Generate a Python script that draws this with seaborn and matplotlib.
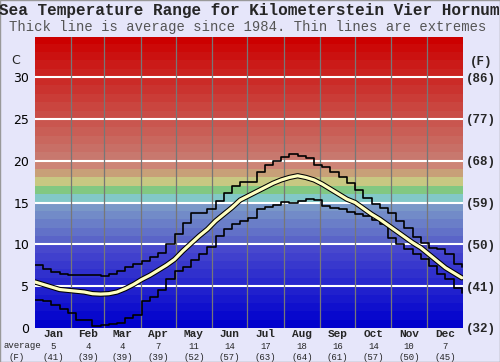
import numpy as np
import pandas as pd

import matplotlib
matplotlib.use("Agg")
import matplotlib.pyplot as plt
import matplotlib.patheffects as pe
import seaborn as sns


# ==========================================================
# DATA
# ==========================================================

# one value per week, day 0 .. 364
week_day = [7 * k for k in range(53)]

temp_max = [
    7.5, 7.0, 6.7, 6.5, 6.3, 6.3, 6.3, 6.3, 6.2, 6.5, 6.8, 7.3, 7.7,
    8.0, 8.5, 9.0, 10.0, 11.2, 12.6, 13.7, 13.7, 14.2, 15.2, 16.1, 17.0, 17.4,
    17.5, 18.7, 19.5, 20.0, 20.4, 20.8, 20.6, 20.3, 19.5, 19.3, 18.6, 18.1, 17.3,
    16.5, 15.5, 14.8, 14.4, 13.7, 12.8, 12.0, 10.9, 10.2, 9.6, 9.4, 8.8, 7.6, 7.3
]

temp_min = [
    3.35, 3.2, 2.8, 2.3, 1.8, 0.96, 0.9, 0.27, 0.3, 0.48, 0.6, 1.2, 1.6,
    3.2, 3.7, 4.6, 5.9, 6.8, 7.3, 8.1, 8.8, 9.7, 11.0, 11.8, 12.4, 12.8,
    13.1, 14.2, 14.5, 14.7, 15.1, 15.0, 15.2, 15.4, 15.3, 14.6, 14.4, 14.2, 13.9,
    13.6, 13.4, 12.9, 12.4, 10.8, 10.1, 9.4, 8.8, 8.3, 7.4, 6.4, 5.8, 4.8, 4.2
]

temp_avg = [
    5.5, 5.2, 4.9, 4.6, 4.5, 4.4, 4.3, 4.1, 4.05, 4.1, 4.3, 4.7, 5.2,
    5.8, 6.3, 6.9, 7.5, 8.2, 9.2, 10.1, 11.0, 11.8, 12.8, 13.6, 14.4, 15.3,
    15.8, 16.3, 16.8, 17.3, 17.7, 18.0, 18.2, 18.0, 17.7, 17.2, 16.6, 16.0, 15.4,
    15.0, 14.3, 13.6, 13.0, 12.3, 11.6, 10.9, 10.2, 9.6, 8.8, 8.0, 7.2, 6.6, 6.0
]

months = ["Jan", "Feb", "Mar", "Apr", "May", "Jun",
          "Jul", "Aug", "Sep", "Oct", "Nov", "Dec"]
month_days = [31, 28, 31, 30, 31, 30, 31, 31, 30, 31, 30, 31]
month_avg_c = [5, 4, 4, 7, 11, 14, 17, 18, 16, 14, 10, 7]
month_avg_f = [41, 39, 39, 39, 52, 57, 63, 64, 61, 57, 50, 45]

c_ticks = [0, 5, 10, 15, 20, 25, 30]
f_ticks = [32, 41, 50, 59, 68, 77, 86]


# ==========================================================
# BAND COLOURS (1 degree per band)
# ==========================================================

def band_color(i):
    if i < 10:
        return (8 * i / 255, 8 * i / 255, 205 / 255)
    if i < 15:
        return ((90 + 8 * (i - 10)) / 255, (100 + 13 * (i - 10)) / 255, 200 / 255)
    fixed = {
        15: (130, 200, 200),
        16: (130, 200, 130),
        17: (200, 200, 130),
        18: (200, 160, 120),
        19: (205, 132, 118),
    }
    if i in fixed:
        return tuple(v / 255 for v in fixed[i])
    t = (i - 20) / 14
    return ((200 + 4 * t) / 255, (120 * (1 - t)) / 255, (110 * (1 - t)) / 255)


# ==========================================================
# FIGURE
# ==========================================================

sns.set_style("white")

bg = "#e6e6fa"

fig = plt.figure(figsize=(5.0, 3.62), dpi=100, facecolor=bg)
ax = fig.add_axes([0.07, 0.094, 0.856, 0.804])

for i in range(35):
    ax.axhspan(i, i + 1, color=band_color(i), lw=0, zorder=0)

for c in c_ticks[1:]:
    ax.axhline(c, color="white", lw=1.5, zorder=1)

bounds = np.cumsum(month_days)
for b in bounds[:-1]:
    ax.axvline(b, color="#777777", lw=0.9, zorder=1)

df = pd.DataFrame({
    "day": week_day,
    "max": temp_max,
    "min": temp_min,
    "avg": temp_avg,
})

sns.lineplot(data=df, x="day", y="max", ax=ax, color="black",
             lw=1.2, drawstyle="steps-post", zorder=3)
sns.lineplot(data=df, x="day", y="min", ax=ax, color="black",
             lw=1.2, drawstyle="steps-post", zorder=3)
sns.lineplot(data=df, x="day", y="avg", ax=ax, color="#ffffc0",
             lw=2.3, zorder=4,
             path_effects=[pe.Stroke(linewidth=3.8, foreground="black"),
                           pe.Normal()])

ax.set_xlim(0, 365)
ax.set_ylim(0, 34.8)
ax.set_xlabel("")
ax.set_ylabel("")
ax.set_xticks([])
ax.set_yticks(c_ticks)
ax.set_yticklabels([str(c) for c in c_ticks], fontsize=9, color="black")
ax.tick_params(axis="y", length=0, pad=4)
for s in ax.spines.values():
    s.set_visible(False)

ax2 = ax.twinx()
ax2.set_ylim(ax.get_ylim())
ax2.set_yticks(c_ticks)
ax2.set_yticklabels([f"({f})" for f in f_ticks], fontsize=9,
                    family="Liberation Mono", fontweight="bold")
ax2.tick_params(axis="y", length=0, pad=2)
for s in ax2.spines.values():
    s.set_visible(False)

# axis unit labels
fig.text(16 / 500, 1 - 61 / 362, "C", fontsize=9, ha="center", va="center")
fig.text(481 / 500, 1 - 62 / 362, "(F)", fontsize=9, ha="center", va="center",
         family="Liberation Mono", fontweight="bold")

# month labels and averages
starts = np.concatenate([[0], bounds[:-1]])
trans = ax.get_xaxis_transform()
for k, m in enumerate(months):
    mid = starts[k] + month_days[k] / 2
    ax.text(mid, -0.021, m, transform=trans, ha="center", va="center",
            fontsize=8, family="Liberation Mono", fontweight="bold", clip_on=False)
    ax.text(mid, -0.062, str(month_avg_c[k]), transform=trans, ha="center",
            va="center", fontsize=6.5, family="Liberation Mono", clip_on=False)
    ax.text(mid, -0.100, f"({month_avg_f[k]})", transform=trans, ha="center",
            va="center", fontsize=6.5, family="Liberation Mono", clip_on=False)

fig.text(22 / 500, 1 - 346 / 362, "average", fontsize=6.5, ha="center",
         va="center", family="Liberation Mono")
fig.text(17 / 500, 1 - 357 / 362, "(F)", fontsize=6.5, ha="center",
         va="center", family="Liberation Mono")

# titles
fig.text(249 / 500, 1 - 10 / 362,
         "Sea Temperature Range for Kilometerstein Vier Hornum",
         fontsize=11.5, ha="center", va="center",
         family="Liberation Mono", fontweight="bold")
fig.text(248 / 500, 1 - 27 / 362,
         "Thick line is average since 1984. Thin lines are extremes",
         fontsize=10, ha="center", va="center",
         family="Liberation Mono", color="#555555")

fig.patches.append(plt.Rectangle((0, 0), 1, 1, transform=fig.transFigure,
                                 fill=False, edgecolor="#999999", lw=1))

fig.savefig("out.png", dpi=100, facecolor=bg)
